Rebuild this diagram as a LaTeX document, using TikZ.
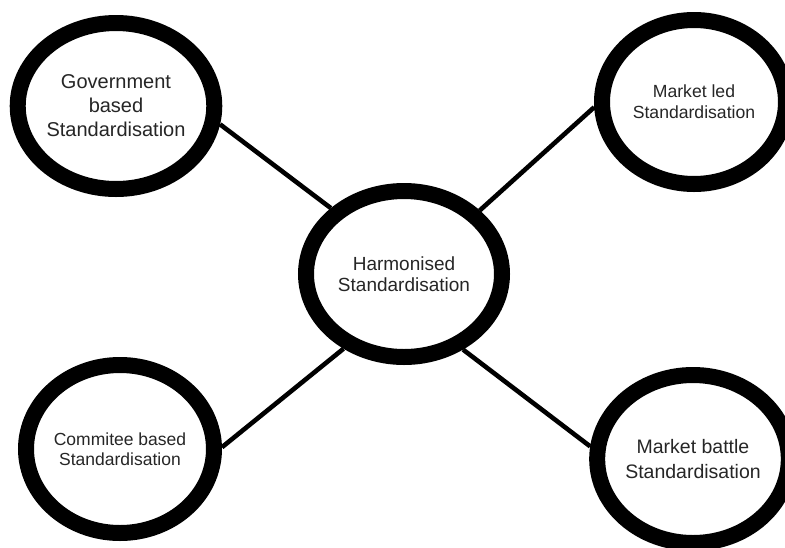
\documentclass[tikz,border=0pt]{standalone}
\usepackage{fontspec}
\setmainfont{Liberation Sans}
\usepackage{xcolor}
\usepackage{tikz}
\usetikzlibrary{shapes}
\usetikzlibrary{calc}

\tikzset{
	kreis/.style={ellipse, draw=black, line width=16pt, fill=white, align=center, text=black!85, inner sep=0pt},
	verbindung/.style={line width=4.6pt, black},
}

\begin{document}
\begin{tikzpicture}[x=1pt, y=-1pt]
		%Rahmen
		\useasboundingbox (0,0) rectangle (785,547);

		%Mitte
		\node [kreis, minimum width=196pt, minimum height=166pt, font=\fontsize{19}{21}\selectfont] (hub) at (404,274) {Harmonised\\Standardisation};

		%Kreise aussen
		\node [kreis, minimum width=187pt, minimum height=166pt, font=\fontsize{20}{24}\selectfont] (gov) at (116,106) {Government\\based\\Standardisation};
		\node [kreis, minimum width=184pt, minimum height=164pt, font=\fontsize{17.6}{21}\selectfont] (led) at (694,102) {Market led\\Standardisation};
		\node [kreis, minimum width=188pt, minimum height=168pt, font=\fontsize{17.5}{20}\selectfont] (com) at (120,449) {Commitee based\\Standardisation};
		\node [kreis, minimum width=186pt, minimum height=168pt, font=\fontsize{19.5}{25}\selectfont] (battle) at (693,459) {Market battle\\Standardisation};

		%Verbindungen
		\draw [verbindung] (hub.138) -- (gov.-10);
		\draw [verbindung] (hub.40) -- (led.183);
		\draw [verbindung] (hub.-129) -- (com.1);
		\draw [verbindung] (hub.-52) -- (battle.173);
\end{tikzpicture}
\end{document}
